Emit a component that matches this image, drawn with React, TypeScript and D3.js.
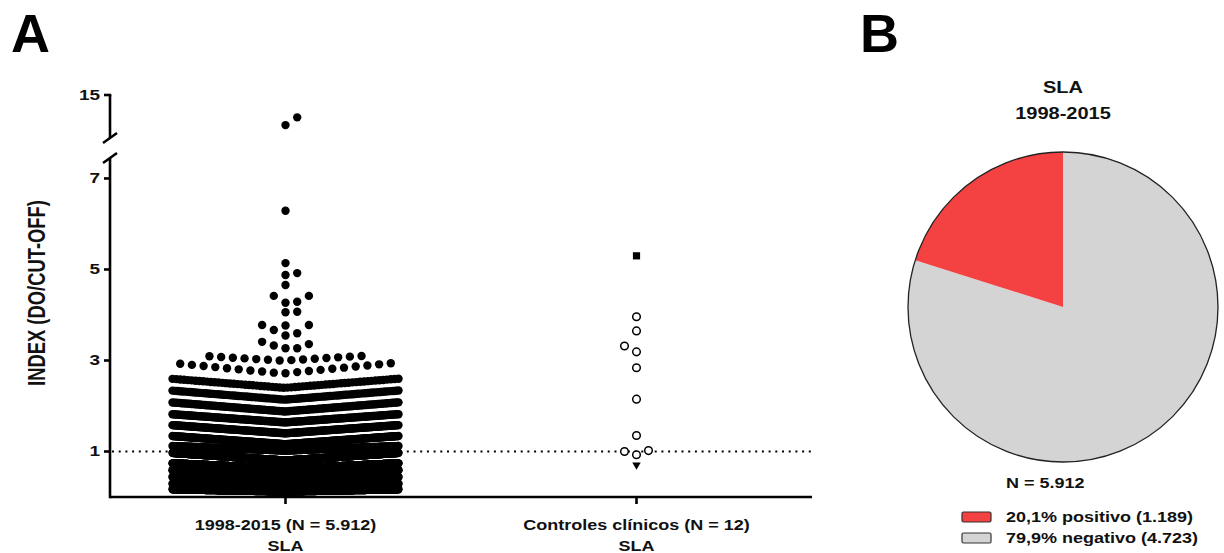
import React, { useMemo } from "react";
import { scaleLinear, scalePoint, pie, arc } from "d3";

// ---- data ----
const categories = ["1998-2015 (N = 5.912)", "Controles clínicos (N = 12)"];
const subLabel = "SLA";
const lowerTicks = [1, 3, 5, 7];
const upperTicks = [15];
const cutoff = 1;

// 1998-2015: isolated high values
const slaSingles = [12.4, 11.5, 6.29, 5.14, 4.92, 4.88, 4.66, 4.42, 4.42, 4.29, 4.27, 4.07, 4.06,
  3.78, 3.78, 3.77, 3.67, 3.6, 3.55, 3.41, 3.36, 3.33, 3.27, 3.27];
// 1998-2015: dense rows (lowest value at row centre, highest at row edge, n samples)
const slaRowLow = [3.0, 2.72, 2.4, 2.14, 1.88, 1.64, 1.4, 1.16, 1.02, 0.8, 0.62, 0.47, 0.32, 0.18, 0.12];
const slaRowHigh = [3.1, 2.94, 2.6, 2.34, 2.08, 1.82, 1.58, 1.34, 1.12, 0.97, 0.74, 0.59, 0.44, 0.29, 0.17];
const slaRowCount = [14, 19, 60, 90, 120, 160, 200, 240, 262, 700, 900, 1000, 900, 700, 523];

// clinical controls
const controlValues = [5.3, 3.96, 3.65, 3.32, 3.19, 2.84, 2.15, 1.35, 1.02, 1.0, 0.93, 0.68];
const controlSymbols = ["square", "circle", "circle", "circle", "circle", "circle", "circle",
  "circle", "circle", "circle", "circle", "triangle"];

// pie
const pieTitle = ["SLA", "1998-2015"];
const pieLabels = ["79,9% negativo (4.723)", "20,1% positivo (1.189)"];
const pieValues = [4723, 1189];
const pieColors = ["#d4d4d4", "#f44242"];
const pieTotal = "N = 5.912";

const FONT = "'Liberation Sans', Arial, sans-serif";
const SQ = 0.8; // the figure is squashed vertically

function Txt({ x, y, size, anchor = "middle", rotate, children }: any) {
  return (
    <text
      transform={`translate(${x},${y}) scale(1,${SQ})${rotate ? ` rotate(${rotate})` : ""}`}
      fontSize={size}
      fontFamily={FONT}
      fontWeight="bold"
      textAnchor={anchor}
      fill="#111"
    >
      {children}
    </text>
  );
}

// simple beeswarm: values sorted ascending, each pushed sideways until free
function swarm(values: number[], cx: number, y: (v: number) => number, step: number, minDist: number, firstSide = -1) {
  const idx = values.map((v, i) => i).sort((a, b) => values[a] - values[b]);
  const placed: { x: number; y: number; i: number }[] = [];
  idx.forEach((i) => {
    const py = y(values[i]);
    for (let k = 0; k < 40; k++) {
      const off = k === 0 ? 0 : (k % 2 === 1 ? firstSide : -firstSide) * Math.ceil(k / 2) * step;
      const px = cx + off;
      if (!placed.some((p) => Math.hypot(p.x - px, p.y - py) < minDist)) {
        placed.push({ x: px, y: py, i });
        break;
      }
    }
  });
  return placed;
}

export default function App() {
  const x = scalePoint<string>().domain(categories).range([110, 812]).padding(0.5);
  const yLow = scaleLinear().domain([0, 7.45]).range([497, 158]);
  const yHigh = scaleLinear().domain([10, 15]).range([138, 95]);
  const yPos = (v: number) => (v <= 7.45 ? yLow(v) : yHigh(v));

  const cx1 = x(categories[0]) as number;
  const cx2 = x(categories[1]) as number;
  const maxW = 226;

  const rowDots = useMemo(() => {
    const out: { x: number; y: number }[] = [];
    slaRowCount.forEach((n, r) => {
      const lo = slaRowLow[r];
      const hi = slaRowHigh[r];
      const sp = n > 1 ? Math.min(11.7, maxW / (n - 1)) : 0;
      for (let k = 0; k < n; k++) {
        // rank k: centre first, then alternating outwards
        let off: number;
        if (n % 2 === 1) off = k === 0 ? 0 : (k % 2 === 1 ? -1 : 1) * Math.ceil(k / 2) * sp;
        else off = (k % 2 === 0 ? -1 : 1) * (Math.floor(k / 2) + 0.5) * sp;
        const v = n > 1 ? lo + ((hi - lo) * k) / (n - 1) : lo;
        out.push({ x: cx1 + off, y: yPos(v) });
      }
    });
    return out;
  }, []);

  const singles = swarm(slaSingles, cx1, yPos, 11.7, 9.5, 1);
  const controls = swarm(controlValues, cx2, yPos, 12, 9.5, -1);

  const pcx = 1063, pcy = 307, pr = 155;
  const arcs = pie<number>().sort(null)(pieValues);
  const arcGen = arc<any>().innerRadius(0).outerRadius(pr);

  const axisW = 2.6;

  return (
    <svg width={1224} height={553} style={{ position: "absolute", left: 0, top: 0, background: "#fff" }}>
      {/* panel letters */}
      <text x={11} y={52} fontSize={54} fontWeight="bold" fontFamily={FONT}>A</text>
      <text x={860} y={52} fontSize={54} fontWeight="bold" fontFamily={FONT}>B</text>

      {/* cut-off */}
      <line x1={112} x2={812} y1={yLow(cutoff)} y2={yLow(cutoff)} stroke="#000" strokeWidth={2} strokeDasharray="2 4.7" />

      {/* 1998-2015 dots */}
      <g fill="#000">
        {rowDots.map((d, i) => (
          <circle key={i} cx={d.x} cy={d.y} r={4.2} />
        ))}
        {singles.map((d) => (
          <circle key={"s" + d.i} cx={d.x} cy={d.y} r={4.2} />
        ))}
      </g>

      {/* controls */}
      <g>
        {controls.map((d) => {
          const s = controlSymbols[d.i];
          if (s === "square") return <rect key={d.i} x={d.x - 3.6} y={d.y - 3.6} width={7.2} height={7.2} fill="#000" />;
          if (s === "triangle")
            return <path key={d.i} d={`M${d.x - 4.2},${d.y - 3.5}L${d.x + 4.2},${d.y - 3.5}L${d.x},${d.y + 3.8}Z`} fill="#000" />;
          return <circle key={d.i} cx={d.x} cy={d.y} r={3.8} fill="#fff" stroke="#000" strokeWidth={1.5} />;
        })}
      </g>

      {/* y axis, broken */}
      <g stroke="#000" strokeWidth={axisW} fill="none">
        <line x1={110} x2={110} y1={yLow(0) + axisW / 2} y2={yLow(7.45)} />
        <line x1={110} x2={110} y1={yHigh(10)} y2={yHigh(15)} />
        <line x1={103} x2={117} y1={yHigh(10) + 5} y2={yHigh(10) - 5} />
        <line x1={103} x2={117} y1={yLow(7.45) + 5} y2={yLow(7.45) - 5} />
        {lowerTicks.map((t) => (
          <line key={t} x1={104} x2={110} y1={yLow(t)} y2={yLow(t)} />
        ))}
        {upperTicks.map((t) => (
          <line key={t} x1={104} x2={110 + axisW / 2} y1={yHigh(t)} y2={yHigh(t)} />
        ))}
        {/* x axis */}
        <line x1={110} x2={812} y1={yLow(0)} y2={yLow(0)} />
        {categories.map((c) => (
          <line key={c} x1={x(c)} x2={x(c)} y1={yLow(0)} y2={yLow(0) + 7} />
        ))}
      </g>
      {lowerTicks.map((t) => (
        <Txt key={t} x={100} y={yLow(t) + 5} size={19} anchor="end">{t}</Txt>
      ))}
      {upperTicks.map((t) => (
        <Txt key={t} x={100} y={yHigh(t) + 5} size={19} anchor="end">{t}</Txt>
      ))}
      <Txt x={45} y={293} size={23} rotate={-90}>INDEX (DO/CUT-OFF)</Txt>
      {categories.map((c) => (
        <g key={c}>
          <Txt x={x(c)} y={530} size={18}>{c}</Txt>
          <Txt x={x(c)} y={551} size={18}>{subLabel}</Txt>
        </g>
      ))}

      {/* pie */}
      <Txt x={pcx} y={93} size={20}>{pieTitle[0]}</Txt>
      <Txt x={pcx} y={119} size={20}>{pieTitle[1]}</Txt>
      <g transform={`translate(${pcx},${pcy})`}>
        {arcs.map((a, i) => (
          <path key={i} d={arcGen(a) as string} fill={pieColors[i]} />
        ))}
        <circle r={pr} fill="none" stroke="#222" strokeWidth={1.3} />
      </g>
      <Txt x={1006} y={488} size={18} anchor="start">{pieTotal}</Txt>
      {[1, 0].map((i, row) => (
        <g key={i}>
          <rect x={962} y={512 + row * 21} width={29} height={10} rx={1.5} fill={pieColors[i]} stroke="#333" strokeWidth={1.2} />
          <Txt x={1006} y={522 + row * 21} size={18} anchor="start">{pieLabels[i]}</Txt>
        </g>
      ))}
    </svg>
  );
}
